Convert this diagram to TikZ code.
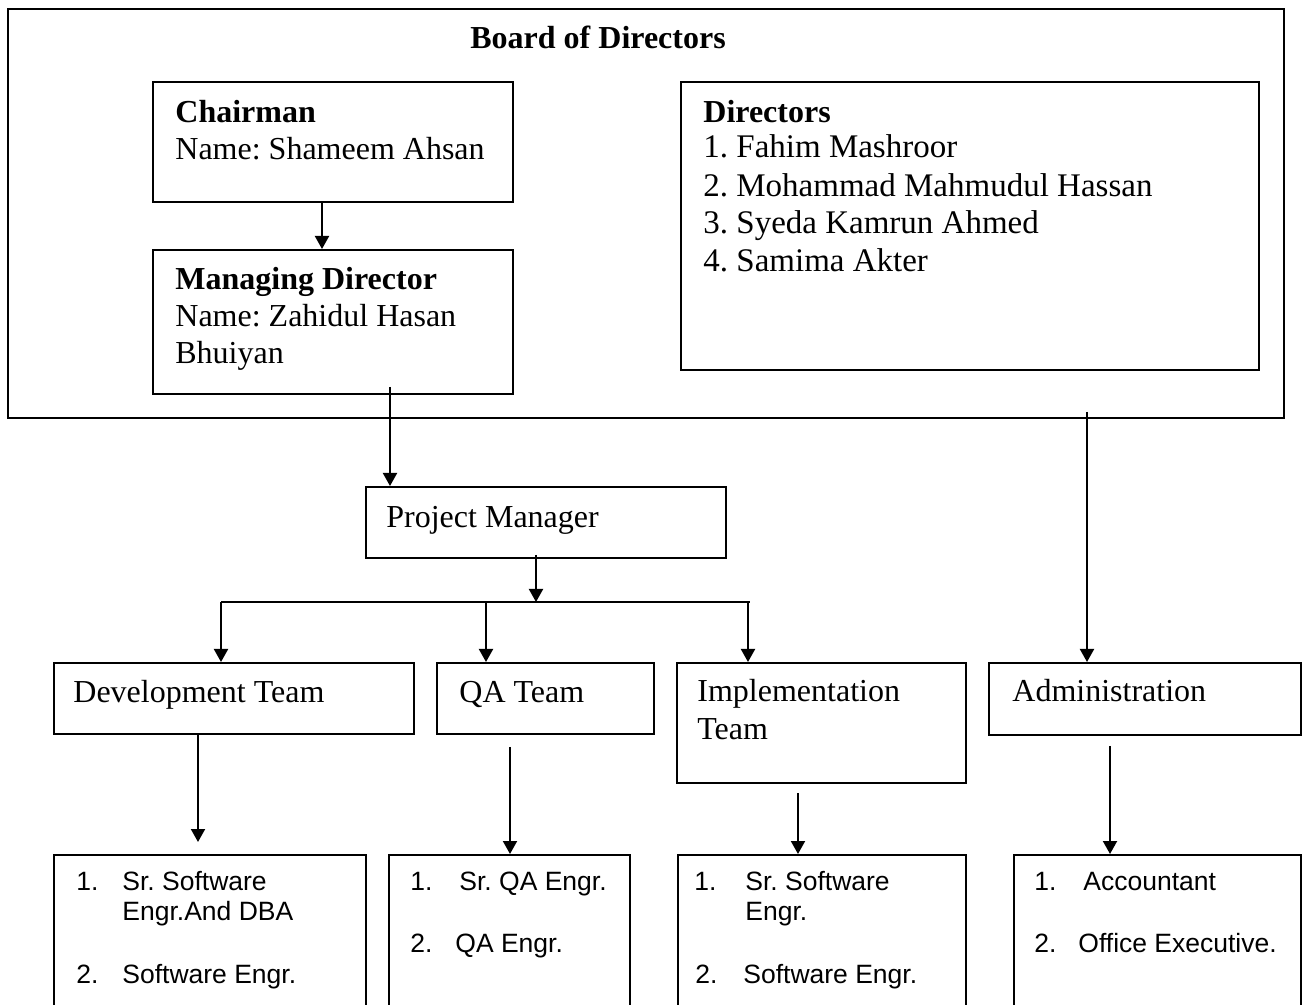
\documentclass[tikz,border=0pt]{standalone}
\usepackage{fontspec}
\setmainfont{Liberation Serif}
\newfontfamily\arialfont{Liberation Sans}
\usetikzlibrary{arrows.meta,fit}
\frenchspacing

\tikzset{
  box/.style={draw, line width=1pt, inner sep=0pt},
  txt/.style={anchor=base west, inner sep=0pt, font=\fontsize{16}{18}\selectfont},
  dirtxt/.style={anchor=base west, inner sep=0pt, font=\fontsize{16.5}{19}\selectfont},
  lst/.style={anchor=base west, inner sep=0pt, font=\arialfont\fontsize{13.25}{15}\selectfont},
  arr/.style={line width=1pt, -{Triangle[length=6.5pt,width=7pt]}}
}

\begin{document}
\begin{tikzpicture}[x=0.5pt, y=-0.5pt]
	\useasboundingbox (0,0) rectangle (1308,1005);
	\clip (0,0) rectangle (1308,1005);
	
	% board of directors
	\node[box, fit={(8,9) (1284,418)}] (board) {};
	\node[txt] (boardlbl) at (470,49) {\bfseries Board of Directors};
	
	\node[box, fit={(153,82) (513,202)}] (chair) {};
	\node[txt] (chairlbl) at (175,123) {\bfseries Chairman};
	\node[txt] (chairname) at (175,160) {Name: Shameem Ahsan};
	
	\node[box, fit={(153,250) (513,394)}] (md) {};
	\node[txt] (mdlbl) at (175,290) {\bfseries Managing Director};
	\node[txt] (mdname) at (175,327) {Name: Zahidul Hasan};
	\node[txt] (mdname2) at (175,364) {Bhuiyan};
	
	\node[box, fit={(681,82) (1259,370)}] (dirs) {};
	\node[txt] (dirslbl) at (703,123) {\bfseries Directors};
	\foreach \n/\y/\who in {
		1/158/1. Fahim Mashroor,
		2/197/2. Mohammad Mahmudul Hassan,
		3/234/3. Syeda Kamrun Ahmed,
		4/272/4. Samima Akter
	}
	{
		\node[dirtxt] (dir\n) at (703,\y) {\who};
	}
	
	% project manager and teams
	\node[box, fit={(366,487) (726,558)}] (pm) {};
	\node[txt] (pmlbl) at (386,528) {Project Manager};
	
	\node[box, fit={(54,663) (414,734)}] (dev) {};
	\node[txt] (devlbl) at (73,703) {Development Team};
	\node[box, fit={(437,663) (654,734)}] (qa) {};
	\node[txt] (qalbl) at (459,703) {QA Team};
	\node[box, fit={(677,663) (966,783)}] (impl) {};
	\node[txt] (impllbl) at (697,702) {Implementation};
	\node[txt] (impllbl2) at (697,740) {Team};
	\node[box, fit={(989,663) (1301,735)}] (admin) {};
	\node[txt] (adminlbl) at (1012,702) {Administration};
	
	% staff lists
	\node[box, fit={(54,855) (366,1030)}] (devlist) {};
	\node[box, fit={(389,855) (630,1030)}] (qalist) {};
	\node[box, fit={(678,855) (966,1030)}] (impllist) {};
	\node[box, fit={(1014,855) (1301,1030)}] (adminlist) {};
	
	\foreach \n/\x/\y/\item in {
		d1/76/890/1., d2/122/890/Sr. Software, d3/122/920/Engr.And DBA,
		d4/76/983/2., d5/122/983/Software Engr.,
		q1/410/890/1., q2/459/890/Sr. QA Engr., q3/410/952/2., q4/455/952/QA Engr.,
		i1/694/890/1., i2/745/890/Sr. Software, i3/745/920/Engr.,
		i4/695/983/2., i5/743/983/Software Engr.,
		a1/1034/890/1., a2/1083/890/Accountant, a3/1034/952/2., a4/1078/952/Office Executive.
	}
	{
		\node[lst] (item\n) at (\x,\y) {\item};
	}
	
	% connectors
	\draw[arr] ([xshift=-5.5pt]chair.south) -- ([xshift=-5.5pt]md.north);
	
	\coordinate (mdout) at (390,387);
	\draw[arr] (mdout) -- (mdout |- pm.north);
	
	\coordinate (pmout) at (536,555);
	\coordinate (busL) at (221,602);
	\coordinate (busR) at (750,602);
	\draw[line width=1pt] (busL) -- (busR);
	\draw[arr] (pmout) -- (pmout |- busL);
	
	\coordinate (tapdev) at (221,602);
	\coordinate (tapqa) at (486,602);
	\coordinate (tapimpl) at (748,602);
	\foreach \t in {dev, qa, impl}
	{
		\draw[arr] (tap\t) -- (tap\t |- \t.north);
	}
	
	\coordinate (adout) at (1087,412);
	\draw[arr] (adout) -- (adout |- admin.north);
	
	\coordinate (devtip) at (198,842);
	\draw[arr] (devtip |- dev.south) -- (devtip);
	\coordinate (qaout) at (510,747);
	\draw[arr] (qaout) -- (qaout |- qalist.north);
	\coordinate (implout) at (798,793);
	\draw[arr] (implout) -- (implout |- impllist.north);
	\coordinate (adminout) at (1110,746);
	\draw[arr] (adminout) -- (adminout |- adminlist.north);
\end{tikzpicture}
\end{document}
